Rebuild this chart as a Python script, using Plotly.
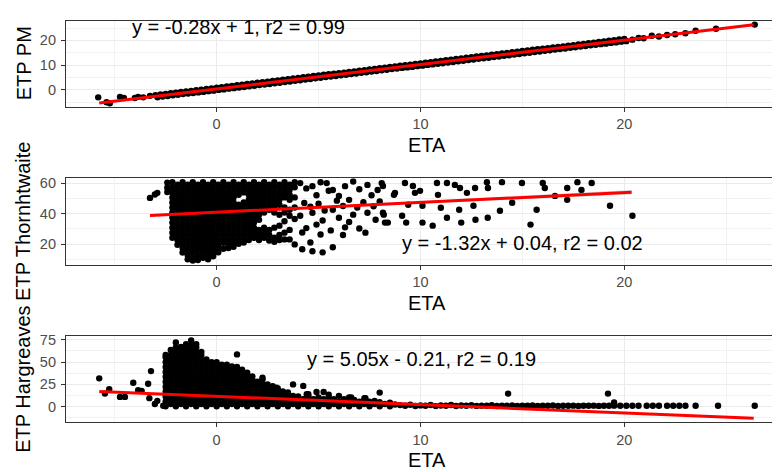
import plotly.graph_objects as go

# ---------------- data ----------------
# Panel 1 : ETP PM vs ETA
pm_eta_left = [-5.81, -5.40, -5.24, -4.74, -4.55, -4.01, -3.85, -3.60, -3.27]
pm_etp_left = [-3.0, -5.0, -5.4, -2.8, -3.3, -3.3, -2.8, -3.0, -2.4]
pm_eta_a = [-3.0, -2.75, -2.5, -2.25, -2.0, -1.75, -1.5, -1.25, -1.0, -0.75, -0.5, -0.25,
            0.0, 0.25, 0.5, 0.75, 1.0, 1.25, 1.5, 1.75, 2.0, 2.25, 2.5, 2.75, 3.0, 3.25, 3.5,
            3.75, 4.0, 4.25, 4.5, 4.75, 5.0, 5.25, 5.5, 5.75, 6.0, 6.25, 6.5, 6.75, 7.0, 7.25,
            7.5, 7.75, 8.0, 8.25, 8.5, 8.75, 9.0, 9.25, 9.5, 9.75, 10.0, 10.25, 10.5, 10.75,
            11.0, 11.25, 11.5, 11.75, 12.0, 12.25, 12.5, 12.75, 13.0, 13.25, 13.5, 13.75, 14.0,
            14.25, 14.5, 14.75, 15.0, 15.25, 15.5, 15.75, 16.0, 16.25, 16.5, 16.75, 17.0, 17.25,
            17.5, 17.75, 18.0, 18.25, 18.5, 18.75, 19.0, 19.25, 19.5, 19.75, 20.0]
pm_etp_a = [-2.1, -1.8, -1.6, -1.3, -1.1, -0.8, -0.6, -0.4, -0.1, 0.1, 0.4, 0.6, 0.9, 1.1,
            1.4, 1.6, 1.9, 2.1, 2.4, 2.6, 2.9, 3.1, 3.3, 3.6, 3.8, 4.1, 4.3, 4.6, 4.8, 5.1, 5.3,
            5.6, 5.8, 6.1, 6.3, 6.5, 6.8, 7.0, 7.3, 7.5, 7.8, 8.0, 8.3, 8.5, 8.8, 9.0, 9.3, 9.5,
            9.8, 10.0, 10.2, 10.5, 10.7, 11.0, 11.2, 11.5, 11.7, 12.0, 12.2, 12.5, 12.7, 13.0,
            13.2, 13.5, 13.7, 13.9, 14.2, 14.4, 14.7, 14.9, 15.2, 15.4, 15.7, 15.9, 16.2, 16.4,
            16.7, 16.9, 17.2, 17.4, 17.6, 17.9, 18.1, 18.4, 18.6, 18.9, 19.1, 19.4, 19.6, 19.9,
            20.1, 20.4, 20.6]
pm_eta_b = [-2.9, -2.65, -2.4, -2.15, -1.9, -1.65, -1.4, -1.15, -0.9, -0.65, -0.4, -0.15,
            0.1, 0.35, 0.6, 0.85, 1.1, 1.35, 1.6, 1.85, 2.1, 2.35, 2.6, 2.85, 3.1, 3.35, 3.6,
            3.85, 4.1, 4.35, 4.6, 4.85, 5.1, 5.35, 5.6, 5.85, 6.1, 6.35, 6.6, 6.85, 7.1, 7.35,
            7.6, 7.85, 8.1, 8.35, 8.6, 8.85, 9.1, 9.35, 9.6, 9.85, 10.1, 10.35, 10.6, 10.85,
            11.1, 11.35, 11.6, 11.85, 12.1, 12.35, 12.6, 12.85, 13.1, 13.35, 13.6, 13.85, 14.1,
            14.35, 14.6, 14.85, 15.1, 15.35, 15.6, 15.85, 16.1, 16.35, 16.6, 16.85, 17.1, 17.35,
            17.6, 17.85, 18.1, 18.35, 18.6, 18.85, 19.1, 19.35, 19.6, 19.85, 20.1]
pm_etp_b = [-3.0, -2.7, -2.5, -2.2, -2.0, -1.7, -1.5, -1.3, -1.0, -0.8, -0.5, -0.3, 0.0, 0.2,
            0.5, 0.7, 1.0, 1.2, 1.5, 1.7, 2.0, 2.2, 2.4, 2.7, 2.9, 3.2, 3.4, 3.7, 3.9, 4.2, 4.4,
            4.7, 4.9, 5.2, 5.4, 5.6, 5.9, 6.1, 6.4, 6.6, 6.9, 7.1, 7.4, 7.6, 7.9, 8.1, 8.4, 8.6,
            8.9, 9.1, 9.3, 9.6, 9.8, 10.1, 10.3, 10.6, 10.8, 11.1, 11.3, 11.6, 11.8, 12.1, 12.3,
            12.6, 12.8, 13.0, 13.3, 13.5, 13.8, 14.0, 14.3, 14.5, 14.8, 15.0, 15.3, 15.5, 15.8,
            16.0, 16.3, 16.5, 16.7, 17.0, 17.2, 17.5, 17.7, 18.0, 18.2, 18.5, 18.7, 19.0, 19.2,
            19.5, 19.7]
pm_eta_tail = [20.4, 20.7, 20.95, 21.35, 21.7, 22.1, 22.5, 23.0, 23.5, 24.5, 26.4]
pm_etp_tail = [20.3, 21.0, 20.9, 21.9, 21.6, 22.2, 22.5, 22.9, 23.9, 24.7, 26.4]
pm_fit_x = [-5.76, 26.35]
pm_fit_y = [-5.3, 26.35]

# Panel 2 : ETP Thornthwaite vs ETA (dense cloud given column by column)
thw_col_x = [-2.42, -2.17, -1.92, -1.67, -1.42, -1.17, -0.92, -0.67, -0.42, -0.17, 0.08, 0.33,
             0.58, 0.83, 1.08, 1.33, 1.58, 1.83, 2.08, 2.33, 2.58, 2.83, 3.08, 3.33, 3.58, 3.83]
thw_col_y = [
    [60.3, 57.0, 54.1],
    [60.5, 57.2, 53.9, 50.6, 47.3, 44.0, 40.7, 37.4, 34.1, 30.8, 27.5, 24.2],
    [59.0, 55.7, 52.4, 49.1, 45.8, 42.5, 39.2, 35.9, 32.6, 29.3, 26.0, 22.7, 19.6],
    [60.5, 57.2, 53.9, 50.6, 47.3, 44.0, 40.7, 37.4, 34.1, 30.8, 27.5, 24.2, 20.9, 17.6, 14.5],
    [59.0, 55.7, 52.4, 49.1, 45.8, 42.5, 39.2, 35.9, 32.6, 29.3, 26.0, 22.7, 19.4, 16.1, 12.8, 10.0],
    [60.5, 57.2, 53.9, 50.6, 47.3, 44.0, 40.7, 37.4, 34.1, 30.8, 27.5, 24.2, 20.9, 17.6, 14.3, 11.0, 9.2],
    [59.0, 55.7, 52.4, 49.1, 45.8, 42.5, 39.2, 35.9, 32.6, 29.3, 26.0, 22.7, 19.4, 16.1, 12.8, 9.6],
    [60.5, 57.2, 53.9, 50.6, 47.3, 44.0, 40.7, 37.4, 34.1, 30.8, 27.5, 24.2, 20.9, 17.6, 14.3, 11.0],
    [59.0, 55.7, 52.4, 49.1, 45.8, 42.5, 39.2, 35.9, 32.6, 29.3, 26.0, 22.7, 19.4, 16.1, 12.8, 10.0],
    [60.5, 57.2, 53.9, 50.6, 47.3, 44.0, 40.7, 37.4, 34.1, 30.8, 27.5, 24.2, 20.9, 17.6, 14.3, 12.0],
    [59.0, 55.7, 52.4, 49.1, 45.8, 42.5, 39.2, 35.9, 32.6, 29.3, 26.0, 22.7, 19.4, 16.3, 14.6],
    [60.5, 57.2, 53.9, 50.6, 47.3, 44.0, 40.7, 37.4, 34.1, 30.8, 27.5, 24.2, 20.9, 17.0],
    [59.0, 55.7, 52.4, 49.1, 45.8, 42.5, 39.2, 35.9, 32.6, 29.3, 26.0, 22.7, 19.4, 17.4],
    [60.5, 57.2, 53.9, 50.6, 47.3, 44.0, 40.7, 37.4, 34.1, 30.8, 27.5, 24.2, 20.9, 18.3],
    [59.0, 55.7, 52.4, 45.8, 42.5, 39.2, 35.9, 32.6, 29.3, 26.0, 22.7, 20.2],
    [60.5, 57.2, 53.9, 47.3, 44.0, 40.7, 37.4, 34.1, 30.8, 27.5, 24.2, 21.0],
    [59.0, 55.7, 52.4, 49.1, 45.8, 42.5, 39.2, 35.9, 32.6, 29.3, 26.0, 22.7],
    [60.5, 57.2, 53.9, 50.6, 47.3, 44.0, 40.7, 37.4, 34.1, 30.8, 27.5, 24.2],
    [59.0, 55.7, 52.4, 49.1, 45.8, 42.5, 39.2, 35.9, 29.3, 26.0, 22.7],
    [60.5, 57.2, 53.9, 50.6, 47.3, 44.0, 40.7, 30.8, 27.5, 24.2],
    [59.0, 55.7, 52.4, 49.1, 45.8, 42.5, 29.3, 26.0, 22.4],
    [60.5, 57.2, 53.9, 50.6, 47.3, 44.0, 40.7, 30.8, 24.2, 21.5],
    [59.0, 55.7, 52.4, 49.1, 45.8, 39.2, 32.1, 26.0, 22.7],
    [60.5, 57.2, 53.9, 50.6, 44.0, 40.7, 35.0, 27.5, 23.1],
    [59.0, 55.7, 52.4, 49.1, 42.5, 38.6, 29.3, 23.1],
    [60.5, 57.2, 50.6, 44.0, 36.5, 19.8],
]
thw_eta_sparse = [-3.27, -3.03, -2.91,
                  4.1, 4.4, 4.7, 4.9, 5.1, 5.4, 5.5, 5.7, 5.9, 6.0,
                  6.3, 6.7, 7.0, 7.4, 7.6, 7.9, 8.1, 8.7, 4.3, 4.6,
                  5.0, 5.3, 5.7, 6.2, 6.5, 6.9, 7.2, 4.1, 4.7, 5.2,
                  6.0, 6.7, 7.4, 8.2, 8.4, 4.9, 5.1, 4.2, 4.6, 4.2,
                  4.7, 5.2, 5.7, 4.4, 5.6, 6.3, 6.5, 7.0, 7.8, 7.7,
                  8.0, 6.2, 7.3,
                  8.16, 8.75, 9.24, 9.63, 9.73, 9.98, 10.81, 10.86, 11.3, 11.69,
                  11.94, 12.28, 12.68, 13.26, 13.31, 14.0, 14.98, 16.0, 16.1, 16.6,
                  17.2, 17.7, 17.9, 18.4, 14.5, 15.7, 15.4, 19.3, 20.4, 8.26,
                  9.1, 9.3, 10.1, 10.6, 11.3, 12.0, 12.7, 13.3, 13.9, 11.0,
                  10.1, 11.9, 9.4, 12.6, 17.2, 8.16]
thw_etp_sparse = [50.3, 52.5, 53.6,
                  60.0, 56.5, 58.0, 52.0, 60.5, 60.0, 55.0, 55.5, 48.5, 51.6,
                  58.0, 61.0, 56.0, 58.8, 52.0, 55.5, 60.0, 52.3, 47.0, 44.5,
                  46.5, 42.0, 42.5, 45.0, 49.0, 44.0, 47.5, 38.6, 40.6, 35.5,
                  37.3, 39.3, 40.6, 39.3, 34.1, 32.8, 26.3, 27.6, 21.1, 16.6,
                  15.3, 14.6, 17.9, 30.5, 29.0, 31.0, 34.5, 30.2, 36.0, 44.8,
                  48.0, 26.0, 27.5,
                  58.1, 53.6, 60.1, 58.1, 53.6, 54.9, 60.1, 52.3, 60.1, 58.8,
                  56.8, 53.6, 56.8, 60.6, 56.8, 60.6, 60.1, 60.1, 56.8, 51.6,
                  56.8, 60.6, 55.5, 60.1, 47.1, 42.5, 32.8, 45.1, 38.6, 34.1,
                  38.6, 34.1, 34.1, 32.1, 37.3, 34.1, 36.0, 37.3, 41.9, 43.8,
                  45.1, 42.5, 45.8, 45.1, 49.0, 40.6]
thw_fit_x = [-3.27, 20.36]
thw_fit_y = [38.8, 54.0]
thw_se_x = [-3.27, 0.0, 5.0, 10.0, 15.0, 20.36]
thw_se_hi = [39.6, 41.2, 44.5, 48.0, 51.6, 55.5]
thw_se_lo = [38.0, 40.6, 43.7, 46.7, 49.5, 52.5]

# Panel 3 : ETP Hargreaves vs ETA
hg_col_x = [-2.5, -2.25, -2.0, -1.75, -1.5, -1.25, -1.0, -0.75, -0.5, -0.25, 0.0, 0.25, 0.5,
            0.75, 1.0, 1.25, 1.5, 1.75, 2.0, 2.25, 2.5, 2.75, 3.0, 3.25, 3.5, 3.75, 4.0, 4.25,
            4.5, 4.75, 5.0, 5.25, 5.5, 5.75, 6.0, 6.25, 6.5, 6.75, 7.0, 7.25, 7.5, 7.75, 8.0,
            8.25, 8.5, 8.75]
hg_col_y = [
    [0.5, 6, 11.5, 17, 22.5, 28, 33.5, 39, 44.5, 50, 55.5, 58],
    [3, 8.5, 14, 19.5, 25, 30.5, 36, 41.5, 47, 52.5, 58, 63.5],
    [0.5, 6, 11.5, 17, 22.5, 28, 33.5, 39, 44.5, 50, 55.5, 61, 66.5, 72],
    [3, 8.5, 14, 19.5, 25, 30.5, 36, 41.5, 47, 52.5, 58, 63.5, 67],
    [0.5, 6, 11.5, 17, 22.5, 28, 33.5, 39, 44.5, 50, 55.5, 61, 66.5, 70],
    [3, 8.5, 14, 19.5, 25, 30.5, 36, 41.5, 47, 52.5, 58, 63.5, 69, 74.3],
    [0.5, 6, 11.5, 17, 22.5, 28, 33.5, 39, 44.5, 50, 55.5, 61, 66.5, 70],
    [3, 8.5, 14, 19.5, 25, 30.5, 36, 41.5, 47, 52.5, 58, 61.5],
    [0.5, 6, 11.5, 17, 22.5, 28, 33.5, 39, 44.5, 50, 53],
    [3, 8.5, 14, 19.5, 25, 30.5, 36, 41.5, 47, 50],
    [0.5, 6, 11.5, 17, 22.5, 28, 33.5, 39, 44.5, 50],
    [3, 8.5, 14, 19.5, 25, 30.5, 36, 41.5, 47],
    [0.5, 6, 11.5, 17, 22.5, 28, 33.5, 39, 44.5, 47],
    [3, 8.5, 14, 19.5, 25, 30.5, 36, 41.5, 45],
    [0.5, 6, 11.5, 17, 22.5, 28, 33.5, 39, 44.5, 58.6],
    [3, 8.5, 14, 19.5, 25, 30.5, 36, 41.5],
    [0.5, 6, 11.5, 17, 22.5, 28, 33.5, 38],
    [3, 8.5, 14, 19.5, 25, 30.5, 34],
    [0.5, 6, 11.5, 17, 22.5, 28],
    [3, 8.5, 14, 19.5, 25, 30.5, 32.5],
    [0.5, 6, 11.5, 17, 22.5, 25],
    [3, 8.5, 14, 19.5, 23],
    [0.5, 6, 11.5, 17, 20.5],
    [3, 8.5, 14, 17],
    [0.5, 6, 11.5, 16],
    [3, 8.5, 12, 25],
    [0.5, 6, 11.5],
    [3, 8.5, 23.3],
    [0.5, 6, 11.5, 14.1],
    [3, 8.5],
    [0.5, 6, 10.5],
    [3, 8.5, 16.5],
    [0.5, 6, 10, 13.5],
    [3, 8.5],
    [0.5, 6, 12.2],
    [3, 8.5],
    [0.5, 6, 10.5],
    [3, 7.5],
    [0.5, 5.5],
    [3, 7, 9.5],
    [0.5, 5.5],
    [3, 6.5],
    [0.5, 5, 15.8],
    [3],
    [0.5, 4.5],
    [2.5],
]
hg_band_eta = [9.0, 9.25, 9.5, 9.75, 10.0, 10.25, 10.5, 10.75, 11.0, 11.25, 11.5, 11.75, 12.0,
               12.25, 12.5, 12.75, 13.0, 13.25, 13.5, 13.75, 14.0, 14.25, 14.5, 14.75, 15.0,
               15.25, 15.5, 15.75, 16.0, 16.25, 16.5, 16.75, 17.0, 17.25, 17.5, 17.75, 18.0,
               18.25, 18.5, 18.75, 19.0, 19.25, 19.5]
hg_band_etp = [1.8, 1.0, 2.2, 0.8, 1.5, 1.1, 2.0, 0.7, 1.4, 1.0, 1.9, 0.8, 1.3, 1.1, 1.7, 0.9,
               1.2, 1.0, 1.6, 0.8, 1.2, 1.0, 1.5, 0.9, 1.1, 1.0, 1.4, 0.8, 1.1, 1.0, 1.3, 0.9,
               1.0, 1.1, 1.2, 0.8, 1.0, 1.1, 1.2, 0.9, 1.0, 1.1, 1.2]
hg_eta_sparse = [-5.76, -5.48, -5.27, -4.74, -4.5, -4.09, -3.85, -3.68, -3.36, -3.22, -3.3,
                 -3.03, -2.91, -2.62, 2.94, 4.42, 4.9, 6.6, 7.3,
                 19.8, 20.1, 20.4, 20.7, 21.1, 21.4, 21.7, 22.1, 22.4, 22.7, 23.0, 23.5, 24.6,
                 26.4, 19.5, 19.2, 14.3]
hg_etp_sparse = [31.8, 14.7, 19.6, 11.0, 11.0, 26.9, 18.5, 17.7, 25.8, 39.9, 9.6,
                 3.0, 6.6, 1.1, 21.4, 14.1, 16.5, 10.5, 9.5,
                 1.1, 1.1, 1.1, 1.1, 1.1, 1.1, 1.1, 1.1, 1.1, 1.1, 1.1, 1.1, 1.1,
                 1.1, 4.8, 14.7, 14.7]
hg_fit_x = [-5.76, 26.35]
hg_fit_y = [17.0, -13.0]

x_ticks = [0, 10, 20]
x_minor = [-5, 5, 15, 25]
eq_labels = ["y = -0.28x + 1, r2 = 0.99",
             "y = -1.32x + 0.04, r2 = 0.02",
             "y = 5.05x - 0.21, r2 = 0.19"]
titles = ["ETP PM", "ETP Thornhtwaite", "ETP Hargreaves"]

# ---------------- build ----------------
def flatten(cols_x, cols_y):
    xs, ys = [], []
    for cx, cy in zip(cols_x, cols_y):
        for v in cy:
            xs.append(cx)
            ys.append(v)
    return xs, ys

pm_eta = pm_eta_left + pm_eta_a + pm_eta_b + pm_eta_tail
pm_etp = pm_etp_left + pm_etp_a + pm_etp_b + pm_etp_tail
tx, ty = flatten(thw_col_x, thw_col_y)
thw_eta = tx + thw_eta_sparse
thw_etp = ty + thw_etp_sparse
hx, hy = flatten(hg_col_x, hg_col_y)
hg_eta = hx + hg_band_eta + hg_eta_sparse
hg_etp = hy + hg_band_etp + hg_etp_sparse

# page offset of the plot div (browser body margin)
OFF = 8
FW, FH = 780 - OFF, 472 - OFF

def fx(p):
    return (p - OFF) / FW

def fy(p):
    return 1 - (p - OFF) / FH

FONT = "Liberation Sans, Arial, sans-serif"
MS = 6.4

fig = go.Figure()

def pts(x, y, xa, ya):
    fig.add_trace(go.Scatter(x=x, y=y, mode="markers", xaxis=xa, yaxis=ya,
                             marker=dict(color="black", size=MS, line=dict(width=0)),
                             showlegend=False, hoverinfo="skip"))

def fit(x, y, xa, ya):
    fig.add_trace(go.Scatter(x=x, y=y, mode="lines", xaxis=xa, yaxis=ya,
                             line=dict(color="#FF0000", width=3),
                             showlegend=False, hoverinfo="skip"))

pts(pm_eta, pm_etp, "x", "y")
fit(pm_fit_x, pm_fit_y, "x", "y")

pts(thw_eta, thw_etp, "x2", "y2")
fig.add_trace(go.Scatter(x=thw_se_x + thw_se_x[::-1], y=thw_se_hi + thw_se_lo[::-1],
                         mode="lines", fill="toself", fillcolor="rgba(153,153,153,0.4)",
                         line=dict(width=0), xaxis="x2", yaxis="y2",
                         showlegend=False, hoverinfo="skip"))
fit(thw_fit_x, thw_fit_y, "x2", "y2")

pts(hg_eta, hg_etp, "x3", "y3")
fit(hg_fit_x, hg_fit_y, "x3", "y3")

x_dom = [fx(66), 1.0]
panels = [(15.7, 103.0), (175.0, 262.3), (335.0, 421.7)]
y_ranges = [[-6.9, 28.0], [6.6, 63.2], [-17.4, 78.7]]
y_ticks = [[0, 10, 20], [20, 40, 60], [0, 25, 50, 75]]
y_minor = [[-5, 5, 15, 25], [10, 30, 50], [-12.5, 12.5, 37.5, 62.5]]

tickfont = dict(family=FONT, size=14.5, color="#4D4D4D")
layout = dict(width=FW, height=FH, margin=dict(l=0, r=0, t=0, b=0),
              paper_bgcolor="white", plot_bgcolor="white", showlegend=False)

for i, (top, bot) in enumerate(panels):
    s = "" if i == 0 else str(i + 1)
    layout["xaxis" + s] = dict(
        domain=x_dom, anchor="y" + s, range=[-7.39, 27.64],
        tickmode="array", tickvals=x_ticks, ticks="outside", ticklen=4, tickwidth=1,
        tickcolor="#333333", showline=True, linecolor="#333333", linewidth=1.2,
        mirror=True, showgrid=True, gridcolor="#EBEBEB", gridwidth=1.2, zeroline=False,
        tickfont=tickfont,
        minor=dict(tickmode="array", tickvals=x_minor, showgrid=True,
                   gridcolor="#F2F2F2", gridwidth=0.8, ticks=""))
    layout["yaxis" + s] = dict(
        domain=[fy(bot), fy(top)], anchor="x" + s, range=y_ranges[i],
        tickmode="array", tickvals=y_ticks[i], ticks="outside", ticklen=4, tickwidth=1,
        tickcolor="#333333", showline=True, linecolor="#333333", linewidth=1.2,
        showgrid=True, gridcolor="#EBEBEB", gridwidth=1.2, zeroline=False,
        tickfont=tickfont, ticklabelstandoff=2,
        minor=dict(tickmode="array", tickvals=y_minor[i], showgrid=True,
                   gridcolor="#F2F2F2", gridwidth=0.8, ticks=""))

ann = []
for i, (top, bot) in enumerate(panels):
    ann.append(dict(text=titles[i], xref="paper", yref="paper", x=fx(23.5),
                    y=fy((top + bot) / 2), xanchor="center", yanchor="middle",
                    textangle=-90, showarrow=False,
                    font=dict(family=FONT, size=20, color="black")))
    ann.append(dict(text="ETA", xref="paper", yref="paper", x=fx(426.7),
                    y=fy(bot + 38.4), xanchor="center", yanchor="middle",
                    showarrow=False, font=dict(family=FONT, size=20, color="black")))

eq_font = dict(family=FONT, size=20, color="black")
eq_pos = [(1.05, 25.6), (15.0, 20.5), (10.04, 53.7)]
for i, (ex, ey) in enumerate(eq_pos):
    s = "" if i == 0 else str(i + 1)
    ann.append(dict(text=eq_labels[i], xref="x" + s, yref="y" + s, x=ex, y=ey,
                    xanchor="center", yanchor="middle", showarrow=False, font=eq_font))
layout["annotations"] = ann

fig.update_layout(**layout)
fig.write_html("out.html")
